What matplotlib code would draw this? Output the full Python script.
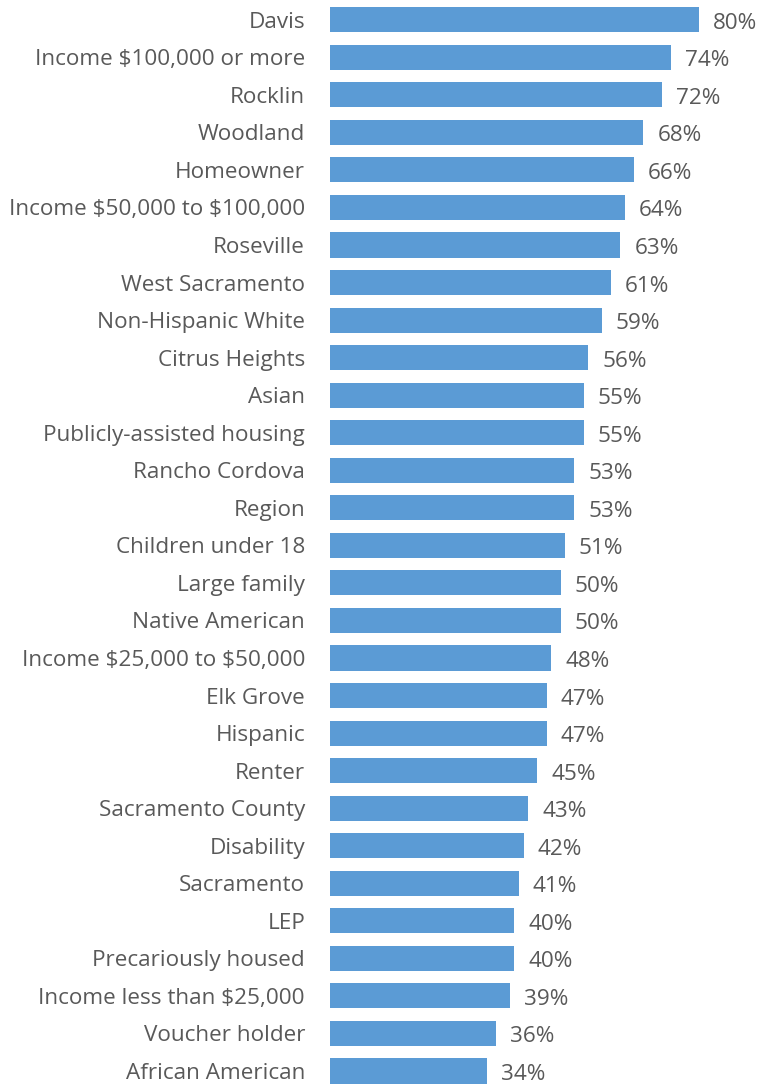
import matplotlib.pyplot as plt

plt.rcParams['font.family'] = ['Open Sans', 'DejaVu Sans']

categories = ['Davis', 'Income \\$100,000 or more', 'Rocklin', 'Woodland', 'Homeowner',
              'Income \\$50,000 to \\$100,000', 'Roseville', 'West Sacramento', 'Non-Hispanic White',
              'Citrus Heights', 'Asian', 'Publicly-assisted housing', 'Rancho Cordova', 'Region',
              'Children under 18', 'Large family', 'Native American', 'Income \\$25,000 to \\$50,000',
              'Elk Grove', 'Hispanic', 'Renter', 'Sacramento County', 'Disability', 'Sacramento',
              'LEP', 'Precariously housed', 'Income less than \\$25,000', 'Voucher holder',
              'African American']
values = [80, 74, 72, 68, 66, 64, 63, 61, 59, 56, 55, 55, 53, 53, 51, 50, 50, 48,
          47, 47, 45, 43, 42, 41, 40, 40, 39, 36, 34]

bar_color = '#5B9BD5'
text_color = '#595959'

fig = plt.figure(figsize=(7.64, 10.85), dpi=100)
ax = fig.add_axes([330 / 764, 0, 434 / 764, 1])

pos = list(range(len(categories)))
ax.barh(pos, values, height=0.67, color=bar_color)

for y, v in zip(pos, values):
    ax.annotate(f'{v}%', xy=(v, y), xytext=(10, -2.5), textcoords='offset points',
                va='center', ha='left', fontsize=16.2, color=text_color)

ax.set_xlim(0, 434 / 4.61)
ax.set_ylim(28.373, -0.525)
ax.set_yticks(pos)
ax.set_yticklabels(categories, fontsize=16.2, color=text_color)
ax.tick_params(axis='y', length=0, pad=18)
ax.set_xticks([])
for s in ax.spines.values():
    s.set_visible(False)

fig.savefig('out.png', dpi=100)
